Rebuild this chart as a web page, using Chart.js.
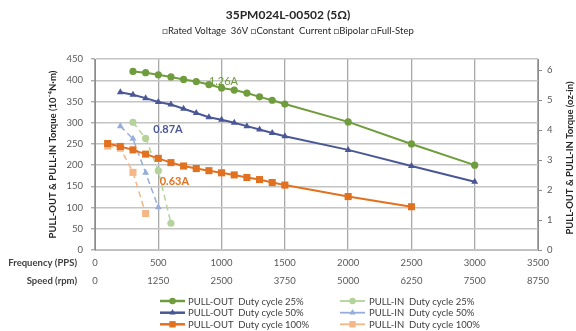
<!DOCTYPE html>
<html>
<head>
<meta charset="utf-8">
<script src="https://cdn.jsdelivr.net/npm/chart.js@4.4.1/dist/chart.umd.min.js"></script>
<style>
html,body{margin:0;padding:0;background:#fff;}
canvas{display:block;}
</style>
</head>
<body>
<canvas id="c" width="576" height="331"></canvas>
<script>
// ---- data ----
const freqTicks = [0, 500, 1000, 1500, 2000, 2500, 3000, 3500];
const speedTicks = [0, 1250, 2500, 3750, 5000, 6250, 7500, 8750];
const ozTicks = [0, 1, 2, 3, 4, 5, 6];

const po25Freq = [300, 400, 500, 600, 700, 800, 900, 1000, 1100, 1200, 1300, 1400, 1500, 2000, 2500, 3000];
const po25Torque = [421, 418, 413, 408, 402, 397, 390, 382, 377, 370, 361, 353, 344, 302, 250, 200];

const po50Freq = [200, 300, 400, 500, 600, 700, 800, 900, 1000, 1100, 1200, 1300, 1400, 1500, 2000, 2500, 3000];
const po50Torque = [372, 366, 358, 349, 343, 333, 323, 313, 307, 300, 292, 284, 276, 268, 236, 198, 161];

const po100Freq = [100, 200, 300, 400, 500, 600, 700, 800, 900, 1000, 1100, 1200, 1300, 1400, 1500, 2000, 2500];
const po100Torque = [251, 244, 236, 226, 216, 206, 198, 192, 187, 182, 177, 171, 166, 159, 153, 126, 102];

const pi25Freq = [300, 400, 500, 600];
const pi25Torque = [301, 263, 187, 63];

const pi50Freq = [200, 300, 400, 500];
const pi50Torque = [292, 262, 182, 101];

const pi100Freq = [100, 200, 300, 400];
const pi100Torque = [245, 240, 183, 86];

const seriesNames = [
  'PULL-OUT  Duty cycle 25%', 'PULL-OUT  Duty cycle 50%', 'PULL-OUT  Duty cycle 100%',
  'PULL-IN  Duty cycle 25%', 'PULL-IN  Duty cycle 50%', 'PULL-IN  Duty cycle 100%'
];
const currentLabels = ['1.26A', '0.87A', '0.63A'];
const currentLabelFreq = [1015, 577, 627];
const currentLabelTorque = [397, 285, 161];

const leftTitle = 'PULL-OUT & PULL-IN Torque (10⁻⁴N·m)';
const rightTitle = 'PULL-OUT & PULL-IN Torque (oz-in)';

const OZIN = 70.62; // 1 oz-in in 10^-4 N·m

// ---- styles ----
const FONT = 'Lato, "Liberation Sans", sans-serif';
const cGreen = '#6f9c3c', cBlue = '#4a5796', cOrange = '#e2711f';
const cLGreen = '#b4d39a', cLBlue = '#97aedb', cLOrange = '#f5b688';

function pts(xs, ys) { return xs.map((x, i) => ({x: x, y: ys[i]})); }

const datasets = [
  {label: seriesNames[0], data: pts(po25Freq, po25Torque), borderColor: cGreen, backgroundColor: cGreen,
   borderWidth: 2, pointStyle: 'circle', pointRadius: 3.6},
  {label: seriesNames[1], data: pts(po50Freq, po50Torque), borderColor: cBlue, backgroundColor: cBlue,
   borderWidth: 2, pointStyle: 'triangle', pointRadius: 4},
  {label: seriesNames[2], data: pts(po100Freq, po100Torque), borderColor: cOrange, backgroundColor: cOrange,
   borderWidth: 2, pointStyle: 'rect', pointRadius: 5},
  {label: seriesNames[3], data: pts(pi25Freq, pi25Torque), borderColor: cLGreen, backgroundColor: cLGreen,
   borderWidth: 1.5, borderDash: [6, 4], pointStyle: 'circle', pointRadius: 3.6},
  {label: seriesNames[4], data: pts(pi50Freq, pi50Torque), borderColor: cLBlue, backgroundColor: cLBlue,
   borderWidth: 1.5, borderDash: [6, 4], pointStyle: 'triangle', pointRadius: 4},
  {label: seriesNames[5], data: pts(pi100Freq, pi100Torque), borderColor: cLOrange, backgroundColor: cLOrange,
   borderWidth: 1.5, borderDash: [6, 4], pointStyle: 'rect', pointRadius: 5}
];
datasets.forEach(d => { d.fill = false; d.tension = 0; d.pointBorderWidth = 0; d.pointHoverRadius = d.pointRadius; d.yAxisID = 'y'; });

const currentColors = [cGreen, cBlue, cOrange];

const extrasPlugin = {
  id: 'extras',
  afterDatasetsDraw(chart) {
    const ctx = chart.ctx, xs = chart.scales.x, ys = chart.scales.y;
    ctx.save();
    ctx.textAlign = 'center';
    ctx.textBaseline = 'middle';
    currentLabels.forEach((t, i) => {
      ctx.font = (i === 0 ? '' : 'bold ') + '11px ' + FONT;
      ctx.fillStyle = currentColors[i];
      ctx.fillText(t, xs.getPixelForValue(currentLabelFreq[i]), ys.getPixelForValue(currentLabelTorque[i]));
    });
    ctx.restore();
  },
  afterDraw(chart) {
    const ctx = chart.ctx;
    ctx.save();
    // right axis title, reading bottom-to-top
    ctx.save();
    ctx.translate(570, 158);
    ctx.rotate(-Math.PI / 2);
    ctx.font = 'bold 9.5px ' + FONT;
    ctx.fillStyle = '#262626';
    ctx.textAlign = 'center';
    ctx.textBaseline = 'middle';
    ctx.fillText(rightTitle, 0, 0);
    ctx.restore();
    // x-axis row headers
    ctx.font = 'bold 9.5px ' + FONT;
    ctx.fillStyle = '#404040';
    ctx.textAlign = 'right';
    ctx.textBaseline = 'middle';
    ctx.fillText('Frequency (PPS)', 77, 263);
    ctx.fillText('Speed (rpm)', 77, 281);
    // legend
    const colLine = [[160, 185], [340, 365]];
    const colText = [188, 369];
    const rowY = [301, 312.7, 324.3];
    ctx.font = '9.5px ' + FONT;
    chart.data.datasets.forEach((d, i) => {
      const col = i < 3 ? 0 : 1, row = i % 3;
      const y = rowY[row];
      ctx.setLineDash([]);
      ctx.strokeStyle = d.borderColor;
      ctx.lineWidth = i < 3 ? 2.5 : 1.8;
      ctx.beginPath();
      ctx.moveTo(colLine[col][0], y);
      ctx.lineTo(colLine[col][1], y);
      ctx.stroke();
      ctx.fillStyle = d.backgroundColor;
      Chart.helpers.drawPoint(ctx, {pointStyle: d.pointStyle, radius: d.pointRadius * 0.9, rotation: 0, borderWidth: 0},
        (colLine[col][0] + colLine[col][1]) / 2, y);
      ctx.fillStyle = '#404040';
      ctx.textAlign = 'left';
      ctx.fillText(d.label, colText[col], y + 0.5);
    });
    ctx.restore();
  }
};

new Chart(document.getElementById('c'), {
  type: 'line',
  data: {datasets: datasets},
  plugins: [extrasPlugin],
  options: {
    responsive: false,
    animation: false,
    devicePixelRatio: 1,
    layout: {padding: {left: 0, right: 0, top: 0, bottom: 41}},
    plugins: {
      legend: {display: false},
      tooltip: {enabled: false},
      title: {display: true, text: '35PM024L-00502 (5Ω)', color: '#262626',
        font: {family: FONT, size: 12, weight: 'bold', lineHeight: 1.2}, padding: {top: 8, bottom: 2}},
      subtitle: {display: true, text: '□Rated Voltage  36V □Constant  Current □Bipolar □Full-Step', color: '#262626',
        font: {family: FONT, size: 9.5, lineHeight: 1.2}, padding: {top: 1, bottom: 22.3}}
    },
    scales: {
      x: {
        type: 'linear', position: 'bottom', min: 0, max: 3500,
        afterFit(s) { s.height = 40; },
        grid: {color: '#a8a8a8', lineWidth: 1.3, drawTicks: false},
        border: {display: true, color: '#bfbfbf', width: 1},
        ticks: {
          stepSize: 500, padding: 4, color: '#595959',
          font: {family: FONT, size: 9.5, lineHeight: 1.9},
          callback(v) { const i = freqTicks.indexOf(v); return i < 0 ? '' : [String(freqTicks[i]), String(speedTicks[i])]; }
        }
      },
      y: {
        type: 'linear', position: 'left', min: 0, max: 450,
        afterFit(s) { s.width = 95; },
        grid: {color: '#c4c4c4', lineWidth: 1.6, tickLength: 4, tickColor: '#8c8c8c', tickWidth: 1},
        border: {display: true, color: '#8c8c8c', width: 1},
        ticks: {stepSize: 50, padding: 8, color: '#595959', font: {family: FONT, size: 9.5}},
        title: {display: true, text: leftTitle, color: '#262626',
          font: {family: FONT, size: 9.5, weight: 'bold', lineHeight: 1.2}, padding: {top: 47, bottom: 0}}
      },
      y2: {
        type: 'linear', position: 'right', min: 0, max: 450 / OZIN,
        afterFit(s) { s.width = 38; },
        grid: {drawOnChartArea: false, tickLength: 4, tickColor: '#8c8c8c', tickWidth: 1},
        border: {display: true, color: '#8c8c8c', width: 1},
        ticks: {stepSize: 1, includeBounds: false, padding: 5, color: '#595959', font: {family: FONT, size: 9.5},
          callback(v) { return ozTicks.indexOf(v) < 0 ? '' : String(v); }},
        title: {display: false}
      }
    }
  }
});
</script>
</body>
</html>
